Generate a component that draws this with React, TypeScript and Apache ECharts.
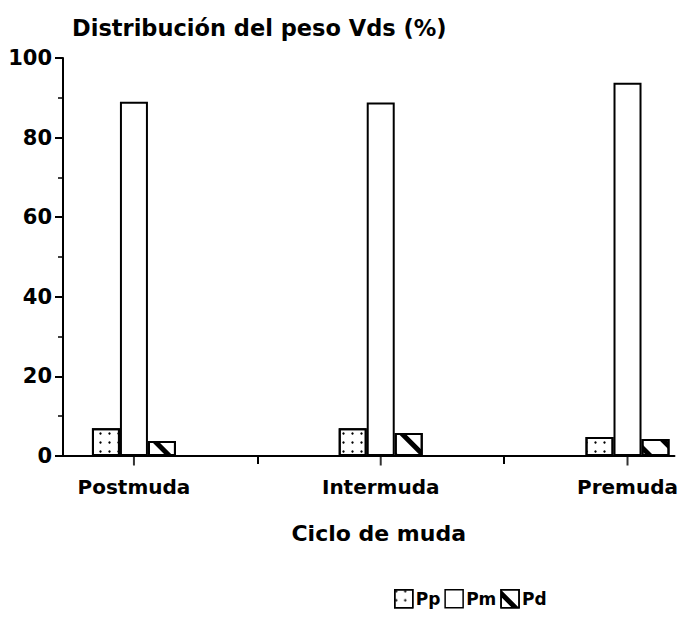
import React, { useEffect, useRef } from "react";
import * as echarts from "echarts";

const categories = ["Postmuda", "Intermuda", "Premuda"];
const seriesNames = ["Pp", "Pm", "Pd"];
const ppValues = [7.0, 7.0, 4.8];
const pmValues = [89.0, 88.8, 93.8];
const pdValues = [3.8, 5.8, 4.3];
const yTicks = [0, 20, 40, 60, 80, 100];
const title = "Distribución del peso Vds (%)";
const xName = "Ciclo de muda";

const FONT = "DejaVu Sans";

export default function App() {
  const ref = useRef<HTMLDivElement>(null);
  useEffect(() => {
    if (!ref.current) return;
    const chart = echarts.init(ref.current, null, { renderer: "svg" });
    const pos = categories.map((_, i) => i + 1);
    const mids = pos.slice(0, -1).map((p) => p + 0.5);
    const xMin = 1 - 71 / 247;
    const xMax = 3 + 47 / 247;
    const dotDecal = {
      symbol: "circle",
      symbolSize: 0.8,
      dashArrayX: [3, 6],
      dashArrayY: [3, 6],
      color: "#000",
      rotation: 0,
    };
    const hatchDecal = {
      symbol: "rect",
      symbolSize: 1,
      dashArrayX: [1, 0],
      dashArrayY: [5, 15],
      rotation: Math.PI / 4,
      color: "#000",
    };
    const mk = (name: string, vals: number[], decal: any) => ({
      type: "bar",
      barWidth: 28,
      barGap: "0%",
      name,
      data: vals.map((v, i) => [pos[i], v]),
      itemStyle: {
        color: "#fff",
        borderColor: "#000",
        borderWidth: 2,
        ...(decal ? { decal } : {}),
      },
    });
    const lbl = { fontFamily: FONT, fontWeight: "bold", color: "#000" };
    chart.setOption({
      animation: false,
      backgroundColor: "#fff",
      title: {
        text: title,
        left: 67,
        top: 11,
        textStyle: { ...lbl, fontSize: 22.5 },
      },
      legend: {
        data: seriesNames,
        left: 389,
        top: 584,
        icon: "rect",
        itemWidth: 18,
        itemHeight: 18,
        itemGap: 4,
        textStyle: { ...lbl, fontSize: 17, padding: [0, 0, 0, -2] },
        itemStyle: { borderColor: "#000", borderWidth: 1.5 },
      },
      grid: { left: 63, right: 6, top: 58, bottom: 179, containLabel: false },
      xAxis: {
        type: "value",
        min: xMin,
        max: xMax,
        name: xName,
        nameLocation: "middle",
        nameGap: 66,
        nameTextStyle: { ...lbl, fontSize: 22, padding: [0, 0, 0, 20] },
        axisLine: { show: true, lineStyle: { color: "#000", width: 2 } },
        axisTick: { show: true, length: 8, customValues: mids, lineStyle: { color: "#000", width: 2 } },
        axisLabel: {
          customValues: pos,
          formatter: (v: number) => categories[Math.round(v) - 1] ?? "",
          ...lbl,
          fontSize: 20,
          margin: 21,
        },
        splitLine: { show: false },
      },
      yAxis: {
        type: "value",
        min: 0,
        max: 100,
        interval: 20,
        axisLine: { show: true, lineStyle: { color: "#000", width: 2 } },
        axisTick: { show: true, length: 8, lineStyle: { color: "#000", width: 2 } },
        minorTick: { show: true, splitNumber: 2, length: 5, lineStyle: { color: "#000", width: 1.5 } },
        axisLabel: {
          customValues: yTicks,
          ...lbl,
          fontSize: 21,
          margin: 11,
        },
        splitLine: { show: false },
      },
      series: [
        mk(seriesNames[0], ppValues, dotDecal),
        mk(seriesNames[1], pmValues, null),
        mk(seriesNames[2], pdValues, hatchDecal),
        {
          type: "scatter",
          name: "ticks",
          data: pos.map((p) => [p, 0]),
          symbol: "rect",
          symbolSize: [2, 9],
          symbolOffset: [0, 5],
          itemStyle: { color: "#000" },
          clip: false,
          silent: true,
          z: 5,
        },
      ],
    });
    return () => chart.dispose();
  }, []);
  return <div ref={ref} style={{ width: 681, height: 635, position: "absolute", left: 0, top: 0 }} />;
}
